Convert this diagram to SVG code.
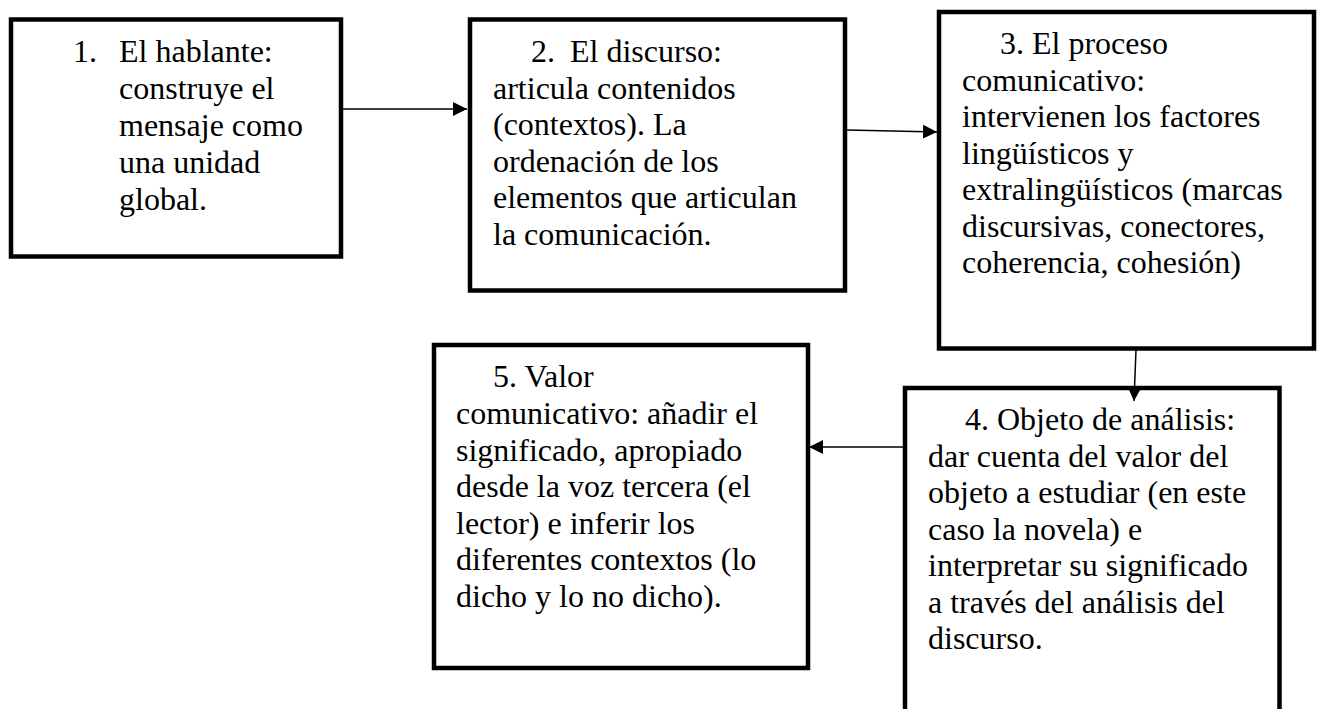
<svg xmlns="http://www.w3.org/2000/svg" width="1320" height="709" viewBox="0 0 1320 709">
<style>
.box{fill:#fff;stroke:#000;stroke-width:4.5}
.t{font-family:"Liberation Serif","Times New Roman",serif;font-size:32px;fill:#000}
.c{stroke:#000;stroke-width:1.5;fill:none}
</style>
<defs>
<marker id="ah" markerUnits="userSpaceOnUse" markerWidth="14" markerHeight="14" viewBox="0 0 14 14" refX="14" refY="7" orient="auto">
<path d="M0,0 L14,7 L0,14 Z" fill="#000"/>
</marker>
</defs>
<rect width="1320" height="709" fill="#fff"/>
<g id="node1">
<rect class="box" x="11" y="19.5" width="330" height="237"/>
<text class="t"><tspan x="73" y="62">1.</tspan><tspan x="119" y="62">El hablante:</tspan><tspan x="119" y="98.5">construye el</tspan><tspan x="119" y="135.5">mensaje como</tspan><tspan x="119" y="172.5">una unidad</tspan><tspan x="119" y="209.5">global.</tspan></text>
</g>
<g id="node2">
<rect class="box" x="470" y="19.5" width="375" height="271"/>
<text class="t"><tspan x="531" y="62">2.</tspan><tspan x="570" y="62">El discurso:</tspan><tspan x="493" y="98.5">articula contenidos</tspan><tspan x="493" y="135">(contextos). La</tspan><tspan x="493" y="171.5">ordenación de los</tspan><tspan x="493" y="208">elementos que articulan</tspan><tspan x="493" y="244.5">la comunicación.</tspan></text>
</g>
<g id="node3">
<rect class="box" x="939" y="12" width="375" height="336.5"/>
<text class="t"><tspan x="1000" y="54">3. El proceso</tspan><tspan x="962" y="90.5">comunicativo:</tspan><tspan x="962" y="127">intervienen los factores</tspan><tspan x="962" y="163.5">lingüísticos y</tspan><tspan x="962" y="200">extralingüísticos (marcas</tspan><tspan x="962" y="236.5">discursivas, conectores,</tspan><tspan x="962" y="273">coherencia, cohesión)</tspan></text>
</g>
<g id="node4">
<rect class="box" x="905" y="388" width="374.5" height="324"/>
<text class="t"><tspan x="965" y="430">4. Objeto de análisis:</tspan><tspan x="928" y="466.5">dar cuenta del valor del</tspan><tspan x="928" y="503">objeto a estudiar (en este</tspan><tspan x="928" y="539.5">caso la novela) e</tspan><tspan x="928" y="576">interpretar su significado</tspan><tspan x="928" y="612.5">a través del análisis del</tspan><tspan x="928" y="649">discurso.</tspan></text>
</g>
<g id="node5">
<rect class="box" x="434" y="345" width="374" height="323"/>
<text class="t"><tspan x="493" y="387">5. Valor</tspan><tspan x="456" y="424">comunicativo: añadir el</tspan><tspan x="456" y="460.5">significado, apropiado</tspan><tspan x="456" y="497">desde la voz tercera (el</tspan><tspan x="456" y="533.5">lector) e inferir los</tspan><tspan x="456" y="570">diferentes contextos (lo</tspan><tspan x="456" y="606.5">dicho y lo no dicho).</tspan></text>
</g>
<g id="connectors">
<line class="c" x1="343" y1="109" x2="467" y2="109" marker-end="url(#ah)"/>
<line class="c" x1="847" y1="130" x2="937" y2="132" marker-end="url(#ah)"/>
<line class="c" x1="1136" y1="350" x2="1134" y2="401" marker-end="url(#ah)"/>
<line class="c" x1="903" y1="447" x2="809" y2="447" marker-end="url(#ah)"/>
</g>
</svg>
